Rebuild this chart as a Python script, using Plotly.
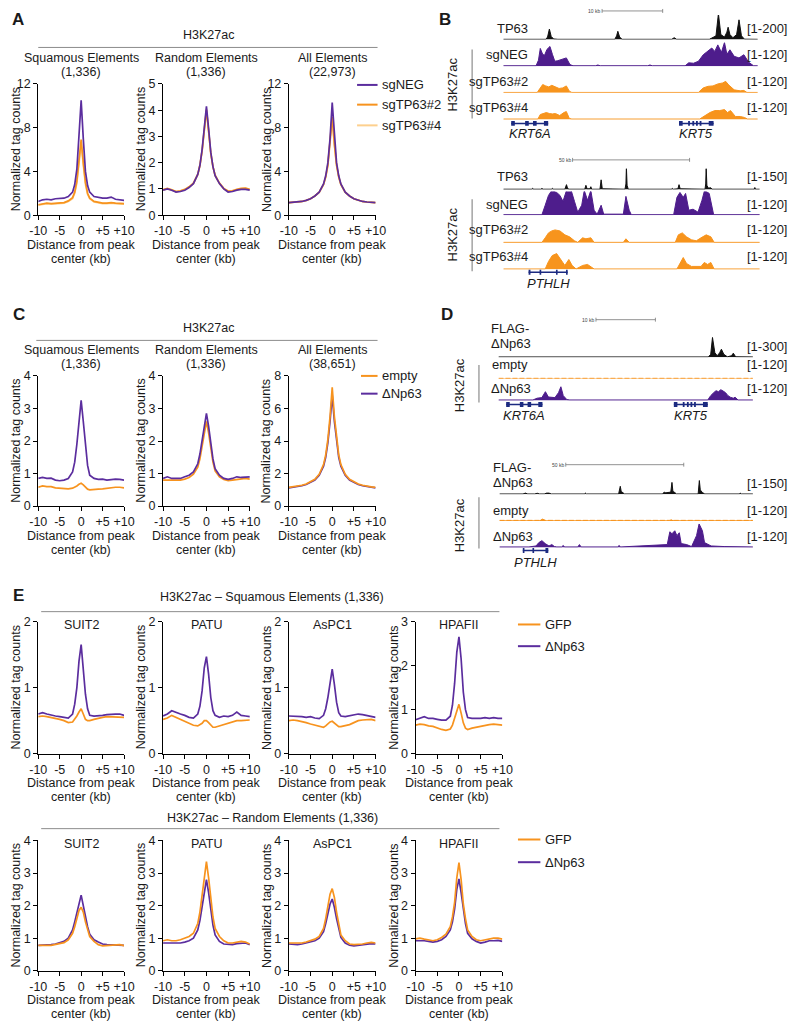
import plotly.graph_objects as go

W, H = 800, 1028
FONT = "Arial, 'Liberation Sans', Helvetica, sans-serif"
PURPLE = "#5B2D9E"
ORANGE = "#F7931E"
LIGHT_ORANGE = "#FDD08E"
TRACK_PURPLE = "#4E1D8C"
TRACK_ORANGE = "#F7941D"
GENE_BLUE = "#1B2A80"
TRACK_BLACK = "#111111"
GRAY = "#8C8C8C"
TXT = "#1a1a1a"

# ---------------- profile data (distance from peak center, kb) ----------------
DIST_KB = [-10, -9, -8, -7, -6, -5, -4, -3, -2, -1.5, -1, -0.5, 0, 0.5, 1, 1.5, 2, 3, 4, 5, 6, 7, 8, 9, 10]
DIST_TICKS = [-10, -5, 0, 5, 10]
DIST_TICKTEXT = ["-10", "-5", "0", "+5", "+10"]

# Panel A (sgNEG / sgTP63#2 / sgTP63#4)
A_SQ_SGNEG = [1.25, 1.4, 1.45, 1.4, 1.5, 1.5, 1.55, 1.7, 2.1, 2.8, 4.2, 7.3, 10.5, 7.0, 4.0, 2.7, 2.1, 1.7, 1.6, 1.55, 1.55, 1.65, 1.45, 1.4, 1.35]
A_SQ_SG2 = [0.95, 1.05, 1.1, 1.05, 1.1, 1.1, 1.15, 1.3, 1.6, 2.1, 3.1, 5.0, 6.9, 4.8, 3.0, 2.0, 1.55, 1.25, 1.15, 1.1, 1.1, 1.15, 1.1, 1.05, 1.05]
A_SQ_SG4 = [0.9, 1.0, 1.05, 1.0, 1.05, 1.05, 1.1, 1.25, 1.5, 2.0, 2.9, 4.7, 6.5, 4.6, 2.8, 1.9, 1.5, 1.2, 1.1, 1.05, 1.05, 1.1, 1.05, 1.0, 1.0]
A_RND_SGNEG = [0.95, 1.0, 0.95, 0.88, 0.9, 0.95, 1.05, 1.2, 1.55, 1.9, 2.5, 3.4, 4.15, 3.3, 2.4, 1.85, 1.5, 1.2, 1.0, 0.88, 0.9, 0.95, 0.98, 0.98, 0.95]
A_RND_SG2 = [0.97, 1.02, 0.97, 0.9, 0.93, 0.98, 1.08, 1.22, 1.55, 1.9, 2.45, 3.3, 4.0, 3.2, 2.35, 1.85, 1.52, 1.22, 1.02, 0.92, 0.93, 0.98, 1.02, 1.03, 0.98]
A_RND_SG4 = [0.96, 1.0, 0.96, 0.9, 0.92, 0.97, 1.07, 1.21, 1.55, 1.9, 2.45, 3.3, 4.05, 3.2, 2.35, 1.84, 1.5, 1.2, 1.0, 0.9, 0.92, 0.96, 1.0, 1.02, 0.97]
A_ALL_SGNEG = [1.15, 1.17, 1.2, 1.25, 1.35, 1.5, 1.75, 2.1, 2.85, 3.6, 4.8, 7.0, 10.3, 7.0, 4.8, 3.6, 2.85, 2.1, 1.75, 1.5, 1.35, 1.25, 1.2, 1.17, 1.15]
A_ALL_SG2 = [1.15, 1.17, 1.2, 1.25, 1.35, 1.5, 1.75, 2.1, 2.8, 3.5, 4.6, 6.5, 9.0, 6.5, 4.6, 3.5, 2.8, 2.1, 1.75, 1.5, 1.35, 1.25, 1.2, 1.17, 1.15]
A_ALL_SG4 = [1.14, 1.16, 1.19, 1.24, 1.34, 1.49, 1.74, 2.08, 2.78, 3.45, 4.5, 6.4, 8.7, 6.4, 4.5, 3.45, 2.78, 2.08, 1.74, 1.49, 1.34, 1.24, 1.19, 1.16, 1.14]

# Panel C (empty / ΔNp63)
C_SQ_EMPTY = [0.58, 0.62, 0.6, 0.6, 0.56, 0.55, 0.53, 0.53, 0.55, 0.58, 0.62, 0.67, 0.7, 0.65, 0.58, 0.52, 0.5, 0.5, 0.52, 0.53, 0.55, 0.56, 0.58, 0.58, 0.56]
C_SQ_DNP63 = [0.85, 0.88, 0.85, 0.86, 0.8, 0.78, 0.8, 0.85, 1.05, 1.35, 1.9, 2.7, 3.25, 2.6, 1.8, 1.25, 0.95, 0.85, 0.82, 0.83, 0.8, 0.82, 0.83, 0.82, 0.8]
C_RND_EMPTY = [0.8, 0.8, 0.78, 0.8, 0.8, 0.83, 0.88, 0.98, 1.2, 1.45, 1.85, 2.3, 2.6, 2.25, 1.75, 1.35, 1.08, 0.9, 0.82, 0.78, 0.8, 0.82, 0.82, 0.85, 0.83]
C_RND_DNP63 = [0.85, 0.9, 0.85, 0.85, 0.85, 0.9, 0.95, 1.05, 1.3, 1.6, 2.0, 2.5, 2.85, 2.45, 1.9, 1.45, 1.15, 0.95, 0.85, 0.82, 0.85, 0.9, 0.88, 0.9, 0.9]
C_ALL_EMPTY = [1.15, 1.18, 1.22, 1.28, 1.36, 1.48, 1.65, 1.95, 2.55, 3.15, 4.1, 5.5, 7.3, 5.5, 4.1, 3.15, 2.55, 1.95, 1.65, 1.48, 1.36, 1.28, 1.22, 1.18, 1.15]
C_ALL_DNP63 = [1.12, 1.15, 1.2, 1.25, 1.33, 1.45, 1.6, 1.9, 2.45, 3.0, 3.9, 5.2, 6.8, 5.2, 3.9, 3.0, 2.45, 1.9, 1.6, 1.45, 1.33, 1.25, 1.2, 1.15, 1.12]

# Panel E (GFP / ΔNp63), squamous elements
E_SQ_SUIT2_GFP = [0.56, 0.57, 0.56, 0.55, 0.53, 0.52, 0.5, 0.47, 0.48, 0.52, 0.57, 0.63, 0.68, 0.6, 0.52, 0.5, 0.5, 0.52, 0.54, 0.55, 0.56, 0.56, 0.56, 0.55, 0.55]
E_SQ_SUIT2_DNP63 = [0.6, 0.62, 0.6, 0.58, 0.57, 0.56, 0.55, 0.54, 0.6, 0.75, 1.0, 1.4, 1.65, 1.3, 0.9, 0.68, 0.58, 0.57, 0.57, 0.58, 0.59, 0.6, 0.6, 0.6, 0.58]
E_SQ_PATU_GFP = [0.52, 0.54, 0.58, 0.55, 0.52, 0.5, 0.47, 0.43, 0.42, 0.44, 0.46, 0.5, 0.5, 0.47, 0.43, 0.4, 0.4, 0.42, 0.45, 0.47, 0.48, 0.5, 0.5, 0.51, 0.51]
E_SQ_PATU_DNP63 = [0.57, 0.6, 0.65, 0.62, 0.6, 0.58, 0.55, 0.54, 0.6, 0.72, 0.95, 1.3, 1.47, 1.2, 0.85, 0.65, 0.58, 0.55, 0.57, 0.56, 0.58, 0.63, 0.58, 0.57, 0.56]
E_SQ_ASPC1_GFP = [0.5, 0.51, 0.5, 0.49, 0.47, 0.45, 0.43, 0.41, 0.4, 0.42, 0.45, 0.48, 0.49, 0.46, 0.43, 0.41, 0.41, 0.42, 0.44, 0.47, 0.5, 0.51, 0.52, 0.52, 0.5]
E_SQ_ASPC1_DNP63 = [0.57, 0.57, 0.57, 0.56, 0.55, 0.56, 0.54, 0.53, 0.58, 0.68, 0.85, 1.1, 1.28, 1.05, 0.78, 0.62, 0.57, 0.56, 0.57, 0.58, 0.6, 0.59, 0.58, 0.57, 0.55]
E_SQ_HPAFII_GFP = [0.65, 0.67, 0.66, 0.63, 0.62, 0.58, 0.55, 0.53, 0.56, 0.65, 0.8, 1.0, 1.12, 0.92, 0.7, 0.58, 0.55, 0.58, 0.6, 0.63, 0.65, 0.66, 0.67, 0.66, 0.65]
E_SQ_HPAFII_DNP63 = [0.77, 0.8, 0.84, 0.8, 0.8, 0.78, 0.76, 0.76, 0.85, 1.1, 1.6, 2.3, 2.65, 2.15, 1.4, 1.0, 0.82, 0.8, 0.8, 0.8, 0.82, 0.8, 0.82, 0.8, 0.8]

# Panel E, random elements
E_RND_SUIT2_GFP = [0.78, 0.77, 0.78, 0.78, 0.8, 0.82, 0.86, 0.95, 1.15, 1.35, 1.6, 1.85, 1.95, 1.8, 1.5, 1.25, 1.05, 0.9, 0.8, 0.76, 0.77, 0.78, 0.8, 0.8, 0.77]
E_RND_SUIT2_DNP63 = [0.78, 0.78, 0.8, 0.8, 0.82, 0.85, 0.9, 1.0, 1.25, 1.5, 1.8, 2.1, 2.32, 2.0, 1.65, 1.35, 1.12, 0.95, 0.88, 0.82, 0.8, 0.8, 0.8, 0.8, 0.78]
E_RND_PATU_GFP = [0.92, 0.95, 0.92, 0.92, 0.95, 1.0, 1.05, 1.15, 1.45, 1.8, 2.3, 2.95, 3.35, 2.85, 2.15, 1.65, 1.3, 1.05, 0.92, 0.85, 0.85, 0.88, 0.9, 0.88, 0.82]
E_RND_PATU_DNP63 = [0.85, 0.85, 0.85, 0.83, 0.85, 0.88, 0.92, 1.0, 1.25, 1.55, 2.0, 2.5, 2.8, 2.4, 1.85, 1.4, 1.1, 0.9, 0.82, 0.8, 0.8, 0.83, 0.85, 0.85, 0.8]
E_RND_ASPC1_GFP = [0.85, 0.85, 0.85, 0.85, 0.88, 0.92, 0.97, 1.05, 1.3, 1.6, 1.95, 2.35, 2.52, 2.25, 1.8, 1.4, 1.1, 0.92, 0.82, 0.8, 0.8, 0.82, 0.85, 0.87, 0.85]
E_RND_ASPC1_DNP63 = [0.82, 0.8, 0.8, 0.82, 0.85, 0.88, 0.92, 1.0, 1.2, 1.45, 1.75, 2.05, 2.2, 1.95, 1.6, 1.3, 1.02, 0.85, 0.78, 0.76, 0.78, 0.8, 0.82, 0.83, 0.82]
E_RND_HPAFII_GFP = [0.98, 1.0, 0.97, 0.95, 0.92, 0.95, 1.02, 1.12, 1.35, 1.65, 2.1, 2.85, 3.32, 2.8, 2.05, 1.6, 1.25, 1.05, 0.95, 0.92, 0.95, 0.98, 1.0, 1.0, 0.97]
E_RND_HPAFII_DNP63 = [0.92, 0.93, 0.92, 0.9, 0.88, 0.9, 0.95, 1.05, 1.25, 1.5, 1.9, 2.5, 2.82, 2.4, 1.85, 1.45, 1.15, 0.98, 0.9, 0.85, 0.88, 0.92, 0.92, 0.93, 0.9]

# ---------------- genome browser tracks (position kb, signal) ----------------
# B, KRT6A/KRT5 locus (42 kb)
B1_LEN = 42.0
B1_TP63_POS = [0, 7.0, 7.3, 7.6, 7.9, 8.3, 9.0, 18.4, 18.7, 18.9, 19.2, 19.6, 27.8, 28.2, 28.6, 34.0, 34.4, 35.1, 35.5, 35.9, 36.5, 36.9, 37.1, 37.4, 37.9, 38.5, 38.9, 39.3, 39.8, 42.0]
B1_TP63_VAL = [2, 2, 20, 85, 25, 5, 2, 2, 30, 67, 20, 2, 2, 15, 2, 2, 12, 30, 210, 40, 20, 60, 100, 40, 15, 40, 160, 30, 3, 2]
B1_SGNEG_POS = [0, 5.4, 5.8, 6.1, 6.5, 6.8, 7.2, 7.7, 8.1, 8.5, 9.0, 9.6, 10.4, 11.0, 11.5, 15.2, 15.6, 16.0, 23.8, 24.2, 24.6, 30.0, 30.6, 31.4, 32.2, 33.0, 33.8, 34.4, 34.9, 35.4, 36.0, 36.5, 36.9, 37.4, 38.1, 38.9, 39.7, 40.5, 41.3, 42.0]
B1_SGNEG_VAL = [2, 2, 30, 90, 60, 55, 85, 100, 60, 25, 28, 35, 42, 8, 2, 2, 6, 2, 2, 6, 2, 2, 17, 15, 25, 58, 75, 92, 75, 108, 70, 120, 60, 83, 50, 42, 58, 20, 2, 2]
B1_SG2_POS = [0, 5.6, 6.0, 6.5, 7.0, 7.5, 8.0, 8.5, 9.2, 9.8, 10.4, 10.9, 11.3, 32.2, 33.0, 33.8, 34.6, 35.4, 36.2, 36.7, 37.2, 38.1, 39.1, 39.7, 40.2, 42.0]
B1_SG2_VAL = [2, 2, 20, 42, 35, 30, 38, 30, 22, 25, 35, 8, 2, 2, 25, 33, 35, 45, 50, 58, 40, 15, 10, 12, 2, 2]
B1_SG4_POS = [0, 5.7, 6.1, 6.6, 7.1, 7.6, 8.1, 8.6, 9.3, 10.0, 10.4, 10.9, 11.3, 32.4, 33.3, 34.1, 34.9, 35.7, 36.5, 37.0, 37.5, 38.3, 39.1, 39.8, 40.3, 42.0]
B1_SG4_VAL = [2, 2, 25, 30, 35, 30, 28, 30, 20, 35, 40, 5, 2, 2, 20, 35, 45, 45, 50, 35, 45, 15, 15, 10, 2, 2]

# B, PTHLH locus (109.6 kb)
B2_LEN = 109.6
B2_TP63_POS = [0, 12, 12.5, 13, 16, 16.5, 17, 20.5, 21, 21.5, 26.3, 26.7, 27.0, 27.4, 28, 34.8, 35.3, 35.8, 37.0, 37.4, 37.8, 41.3, 41.8, 42.3, 52.0, 52.4, 52.6, 52.9, 53.4, 71.8, 72.2, 72.6, 74.6, 75.1, 75.6, 86.2, 86.5, 86.7, 87.0, 87.6, 88.7, 89.2, 107.2, 107.5, 107.8, 109.6]
B2_TP63_VAL = [2, 2, 8, 2, 2, 7, 2, 2, 8, 2, 2, 15, 35, 12, 2, 2, 30, 5, 5, 20, 2, 2, 70, 5, 2, 40, 160, 30, 2, 2, 8, 2, 5, 35, 5, 2, 40, 160, 30, 10, 12, 2, 2, 14, 2, 2]
B2_SGNEG_POS = [0, 16.5, 17.9, 19.3, 20.7, 22.8, 24.2, 25.5, 27.0, 29.0, 30.4, 31.8, 33.5, 34.6, 36.0, 37.4, 38.8, 40.1, 41.8, 42.9, 51.3, 52.4, 53.8, 54.7, 72.8, 74.2, 75.5, 76.9, 77.9, 79.3, 81.1, 83.2, 84.9, 86.0, 88.0, 89.0, 89.9, 109.6]
B2_SGNEG_VAL = [2, 2, 50, 100, 125, 115, 100, 70, 125, 125, 70, 15, 50, 125, 75, 125, 25, 5, 50, 5, 5, 95, 25, 2, 2, 90, 115, 90, 110, 25, 30, 15, 75, 125, 110, 60, 2, 2]
B2_SG2_POS = [0, 16.5, 17.9, 19.3, 20.7, 22.1, 24.2, 26.3, 28.3, 30.4, 31.8, 33.9, 35.3, 37.4, 38.8, 51.3, 52.4, 53.8, 73.5, 74.8, 76.5, 78.3, 80.4, 82.5, 84.5, 86.7, 88.7, 90.1, 109.6]
B2_SG2_VAL = [2, 2, 25, 50, 60, 65, 60, 40, 30, 10, 2, 25, 20, 25, 2, 2, 20, 2, 2, 40, 50, 30, 15, 10, 25, 40, 30, 2, 2]
B2_SG4_POS = [0, 17.9, 19.3, 20.9, 22.8, 24.6, 26.3, 28.0, 29.4, 31.1, 33.9, 36.0, 38.1, 38.8, 74.2, 75.5, 76.9, 78.3, 80.4, 84.5, 85.9, 87.3, 88.7, 90.1, 109.6]
B2_SG4_VAL = [2, 2, 40, 70, 80, 50, 20, 50, 20, 2, 20, 25, 10, 2, 2, 30, 60, 30, 15, 15, 35, 25, 35, 2, 2]

# D, KRT6A/KRT5 locus (42.8 kb)
D1_LEN = 42.8
D1_FLAG_POS = [0, 18.6, 19.0, 19.4, 35.3, 35.7, 36.0, 36.4, 36.8, 37.2, 37.5, 37.9, 38.5, 39.2, 39.5, 39.9, 40.5, 42.8]
D1_FLAG_VAL = [3, 3, 12, 3, 3, 40, 272, 60, 20, 60, 110, 40, 5, 20, 55, 5, 3, 3]
D1_EMPTY_POS = [0, 10, 10.5, 11, 20, 20.5, 21, 35, 35.5, 36, 42.8]
D1_EMPTY_VAL = [3, 3, 6, 3, 3, 5, 3, 3, 6, 3, 3]
D1_DNP63_POS = [0, 5.8, 6.5, 7.3, 7.9, 8.4, 9.5, 10.1, 10.5, 10.9, 11.5, 12.0, 35.2, 35.7, 36.2, 36.6, 37.0, 37.4, 37.8, 38.2, 38.6, 39.0, 39.5, 39.8, 40.3, 42.8]
D1_DNP63_VAL = [3, 3, 12, 15, 45, 18, 15, 40, 70, 25, 5, 3, 3, 25, 40, 50, 45, 55, 48, 40, 25, 17, 12, 17, 3, 3]

# D, PTHLH locus (107.4 kb)
D2_LEN = 107.4
D2_FLAG_POS = [0, 10, 11, 12, 15, 16, 17, 19, 20, 21, 22, 36, 36.4, 36.8, 50.5, 50.8, 51.2, 51.6, 52.4, 53, 69, 69.8, 70.5, 72.6, 73.1, 73.5, 74.3, 75, 84.2, 84.5, 84.7, 85.1, 86, 87, 101.6, 102, 102.4, 107.4]
D2_FLAG_VAL = [2, 2, 8, 2, 2, 7, 2, 2, 8, 8, 2, 2, 8, 2, 2, 30, 55, 20, 10, 2, 2, 14, 10, 15, 82, 20, 12, 2, 2, 50, 95, 30, 12, 2, 2, 8, 2, 2]
D2_EMPTY_POS = [0, 17, 18.2, 19.5, 72, 73, 74, 107.4]
D2_EMPTY_VAL = [3, 3, 10, 3, 3, 6, 3, 3]
D2_DNP63_POS = [0, 12.5, 15.5, 16.7, 18.0, 19.4, 21.0, 22.2, 23.3, 24.3, 26.3, 27.0, 27.7, 33.2, 33.9, 34.6, 50.0, 50.7, 51.4, 71.1, 72.2, 73.1, 74.3, 75.2, 76.2, 77.0, 79.3, 81.4, 83.5, 84.6, 86.0, 86.9, 89.7, 95.2, 107.4]
D2_DNP63_VAL = [3, 3, 8, 25, 35, 20, 8, 15, 5, 3, 3, 10, 3, 3, 15, 3, 3, 10, 3, 15, 80, 70, 85, 60, 75, 20, 15, 5, 60, 120, 85, 25, 8, 5, 3]

# Gene models (start, end, exons) in kb
KRT6A_B = (1.3, 7.4, [(1.3, 1.9), (3.6, 4.2), (4.9, 5.5), (6.7, 7.4)])
KRT5_B = (29.0, 34.7, [(29.0, 29.6), (30.5, 30.8), (31.2, 31.5), (31.8, 32.1), (32.4, 32.7), (33.9, 34.7)])
PTHLH_B = (10.8, 27.5, [(10.8, 11.6), (15.5, 16.2), (22.5, 23.2), (26.8, 27.5)])
KRT6A_D = (1.3, 7.4, [(1.3, 1.9), (3.6, 4.2), (4.9, 5.5), (6.7, 7.4)])
KRT5_D = (29.5, 35.2, [(29.5, 30.1), (31.0, 31.3), (31.7, 32.0), (32.3, 32.6), (32.9, 33.2), (34.4, 35.2)])
PTHLH_D = (9.9, 20.7, [(9.9, 10.6), (14.0, 14.7), (19.5, 20.7)])

# ---------------- figure construction ----------------
fig = go.Figure()
layout_axes = {}
shapes = []
annotations = []
counter = [0]

TICK_SIZE = 12.5
TITLE_SIZE = 12.5
LABEL_SIZE = 13


def PX(x):
    return x / W


def PY(y):
    return 1 - y / H


def txt(x, y, text, size=11, xanchor="center", yanchor="middle", angle=0, color=TXT, xref="paper"):
    annotations.append(dict(
        x=PX(x) if xref == "paper" else x, y=PY(y), xref=xref, yref="paper", text=text,
        showarrow=False, xanchor=xanchor, yanchor=yanchor, textangle=angle, borderpad=0,
        font=dict(family=FONT, size=size, color=color)))


def hline(x0, x1, y, color=GRAY, width=1):
    shapes.append(dict(type="line", xref="paper", yref="paper", x0=PX(x0), x1=PX(x1),
                       y0=PY(y), y1=PY(y), line=dict(color=color, width=width)))


def vline(x, y0, y1, color=GRAY, width=1.2):
    shapes.append(dict(type="line", xref="paper", yref="paper", x0=PX(x), x1=PX(x),
                       y0=PY(y0), y1=PY(y1), line=dict(color=color, width=width)))


def new_axes(x0, x1, ytop, ybot, xrange, yrange):
    counter[0] += 1
    n = counter[0]
    s = "" if n == 1 else str(n)
    layout_axes["xaxis" + s] = dict(domain=[PX(x0), PX(x1)], range=xrange, anchor="y" + s,
                                    showgrid=False, zeroline=False, fixedrange=True)
    layout_axes["yaxis" + s] = dict(domain=[PY(ybot), PY(ytop)], range=yrange, anchor="x" + s,
                                    showgrid=False, zeroline=False, fixedrange=True)
    return s


def profile(x0, x1, ytop, ybot, ymax, ydtick, series, title_lines=None, inner_title=None):
    s = new_axes(x0, x1, ytop, ybot, [-10, 10], [0, ymax])
    axstyle = dict(showline=True, linecolor="black", linewidth=1, ticks="outside", ticklen=4,
                   tickwidth=1, tickcolor="black", tickfont=dict(family=FONT, size=TICK_SIZE, color=TXT))
    layout_axes["xaxis" + s].update(axstyle, tickvals=DIST_TICKS, ticktext=DIST_TICKTEXT)
    layout_axes["yaxis" + s].update(axstyle, tickmode="linear", tick0=0, dtick=ydtick)
    for vals, color in series:
        fig.add_trace(go.Scatter(x=DIST_KB, y=vals, xaxis="x" + s, yaxis="y" + s, mode="lines",
                                 line=dict(color=color, width=1.7), showlegend=False, hoverinfo="skip"))
    cx = (x0 + x1) / 2
    txt(x0 - 23, (ytop + ybot) / 2, "Normalized tag counts", size=12.5, angle=-90)
    txt(cx, ybot + 30, "Distance from peak", size=12.5)
    txt(cx, ybot + 44, "center (kb)", size=12.5)
    if title_lines:
        txt(cx, ytop - 26, title_lines[0], size=TITLE_SIZE)
        txt(cx, ytop - 12, title_lines[1], size=TITLE_SIZE)
    if inner_title:
        txt(cx, ytop + 4, inner_title, size=TITLE_SIZE)


def track(x0, x1, baseline, height, length, vmax, pos, vals, color, dash=None):
    s = new_axes(x0, x1, baseline - height, baseline, [0, length], [0, vmax])
    layout_axes["xaxis" + s]["visible"] = False
    layout_axes["yaxis" + s]["visible"] = False
    line = dict(color=color, width=1)
    if dash:
        line["dash"] = dash
    fig.add_trace(go.Scatter(x=pos, y=vals, xaxis="x" + s, yaxis="y" + s, mode="lines",
                             fill="tozeroy", fillcolor=color, line=line,
                             showlegend=False, hoverinfo="skip"))
    return "x" + s


def gene(xref, model, name, y, label_y):
    start, end, exons = model
    shapes.append(dict(type="line", xref=xref, yref="paper", x0=start, x1=end, y0=PY(y), y1=PY(y),
                       line=dict(color=GENE_BLUE, width=1.5)))
    for a, b in exons:
        shapes.append(dict(type="rect", xref=xref, yref="paper", x0=a, x1=b, y0=PY(y + 2.5),
                           y1=PY(y - 2.5), fillcolor=GENE_BLUE, line=dict(width=0)))
    annotations.append(dict(x=(start + end) / 2, y=PY(label_y), xref=xref, yref="paper",
                            text="<i>%s</i>" % name, showarrow=False, xanchor="center",
                            yanchor="middle", font=dict(family=FONT, size=LABEL_SIZE, color=TXT)))


def scalebar(xref, start, length, y, label):
    shapes.append(dict(type="line", xref=xref, yref="paper", x0=start, x1=start + length,
                       y0=PY(y), y1=PY(y), line=dict(color="#777", width=0.8)))
    for xx in (start, start + length):
        shapes.append(dict(type="line", xref=xref, yref="paper", x0=xx, x1=xx,
                           y0=PY(y - 2), y1=PY(y + 2), line=dict(color="#777", width=0.8)))
    annotations.append(dict(x=start, y=PY(y), xref=xref, yref="paper", text=label,
                            showarrow=False, xanchor="right", yanchor="middle",
                            font=dict(family=FONT, size=5, color="#444")))


def legend_item(x0, x1, y, color, label):
    shapes.append(dict(type="line", xref="paper", yref="paper", x0=PX(x0), x1=PX(x1),
                       y0=PY(y), y1=PY(y), line=dict(color=color, width=2)))
    txt(x1 + 4, y, label, size=LABEL_SIZE, xanchor="left")


# ---- Panel A ----
txt(9, 13, "<b>A</b>", size=17)
txt(205, 28, "H3K27ac", size=TITLE_SIZE)
hline(30, 378, 41)
profile(30, 118, 78, 211, 12, 4, [(A_SQ_SG4, LIGHT_ORANGE), (A_SQ_SG2, ORANGE), (A_SQ_SGNEG, PURPLE)],
        title_lines=["Squamous Elements", "(1,336)"])
profile(158, 247, 78, 211, 5, 1, [(A_RND_SG4, LIGHT_ORANGE), (A_RND_SG2, ORANGE), (A_RND_SGNEG, PURPLE)],
        title_lines=["Random Elements", "(1,336)"])
profile(287, 376, 78, 211, 12, 4, [(A_ALL_SG4, LIGHT_ORANGE), (A_ALL_SG2, ORANGE), (A_ALL_SGNEG, PURPLE)],
        title_lines=["All Elements", "(22,973)"])
legend_item(357, 378, 79, PURPLE, "sgNEG")
legend_item(357, 378, 99, ORANGE, "sgTP63#2")
legend_item(357, 378, 120, LIGHT_ORANGE, "sgTP63#4")

# ---- Panel C ----
txt(10, 312, "<b>C</b>", size=17)
txt(205, 325, "H3K27ac", size=TITLE_SIZE)
hline(28, 378, 338)
profile(30, 118, 374, 506, 4, 1, [(C_SQ_EMPTY, ORANGE), (C_SQ_DNP63, PURPLE)],
        title_lines=["Squamous Elements", "(1,336)"])
profile(158, 247, 374, 506, 4, 1, [(C_RND_EMPTY, ORANGE), (C_RND_DNP63, PURPLE)],
        title_lines=["Random Elements", "(1,336)"])
profile(287, 376, 374, 506, 8, 2, [(C_ALL_DNP63, PURPLE), (C_ALL_EMPTY, ORANGE)],
        title_lines=["All Elements", "(38,651)"])
legend_item(361, 378, 374, ORANGE, "empty")
legend_item(361, 378, 392, PURPLE, "ΔNp63")

# ---- Panel E ----
txt(10, 597, "<b>E</b>", size=17)
txt(270, 598, "H3K27ac – Squamous Elements (1,336)", size=TITLE_SIZE)
hline(33, 503, 613)
E_X = [(30, 118), (158, 247), (287, 376), (417, 506)]
E_NAMES = ["SUIT2", "PATU", "AsPC1", "HPAFII"]
E_SQ = [(E_SQ_SUIT2_GFP, E_SQ_SUIT2_DNP63), (E_SQ_PATU_GFP, E_SQ_PATU_DNP63),
        (E_SQ_ASPC1_GFP, E_SQ_ASPC1_DNP63), (E_SQ_HPAFII_GFP, E_SQ_HPAFII_DNP63)]
E_SQ_MAX = [2, 2, 2, 3]
for (x0, x1), name, (gfp, dn), ym in zip(E_X, E_NAMES, E_SQ, E_SQ_MAX):
    profile(x0, x1, 623, 757, ym, 1, [(gfp, ORANGE), (dn, PURPLE)], inner_title=name)
legend_item(522, 545, 626, ORANGE, "GFP")
legend_item(522, 545, 648, PURPLE, "ΔNp63")

txt(270, 822, "H3K27ac – Random Elements (1,336)", size=TITLE_SIZE)
hline(33, 503, 833)
E_RND = [(E_RND_SUIT2_GFP, E_RND_SUIT2_DNP63), (E_RND_PATU_GFP, E_RND_PATU_DNP63),
         (E_RND_ASPC1_GFP, E_RND_ASPC1_DNP63), (E_RND_HPAFII_GFP, E_RND_HPAFII_DNP63)]
for (x0, x1), name, (gfp, dn) in zip(E_X, E_NAMES, E_RND):
    profile(x0, x1, 845, 977, 4, 1, [(dn, PURPLE), (gfp, ORANGE)], inner_title=name)
legend_item(522, 545, 844, ORANGE, "GFP")
legend_item(522, 545, 867, PURPLE, "ΔNp63")

# ---- Panel B ----
txt(447, 13, "<b>B</b>", size=17)
bx0, bx1 = 507, 768
track(bx0, bx1, 33, 25, B1_LEN, 200, B1_TP63_POS, B1_TP63_VAL, TRACK_BLACK)
track(bx0, bx1, 60, 24, B1_LEN, 120, B1_SGNEG_POS, B1_SGNEG_VAL, TRACK_PURPLE)
track(bx0, bx1, 87, 24, B1_LEN, 120, B1_SG2_POS, B1_SG2_VAL, TRACK_ORANGE)
xb1 = track(bx0, bx1, 114, 24, B1_LEN, 120, B1_SG4_POS, B1_SG4_VAL, TRACK_ORANGE)
scalebar(xb1, 16.3, 10, 4, "10 kb")
gene(xb1, KRT6A_B, "KRT6A", 118, 128)
gene(xb1, KRT5_B, "KRT5", 118, 128)
for lab, yy, rng in [("TP63", 22, "[1-200]"), ("sgNEG", 48, "[1-120]"),
                     ("sgTP63#2", 76, "[1-120]"), ("sgTP63#4", 102, "[1-120]")]:
    txt(533, yy, lab, size=LABEL_SIZE, xanchor="right")
    txt(799, yy, rng, size=LABEL_SIZE, xanchor="right")
txt(455, 79, "H3K27ac", size=LABEL_SIZE, angle=-90)
vline(475, 43, 113)

track(bx0, 770, 185, 21, B2_LEN, 150, B2_TP63_POS, B2_TP63_VAL, TRACK_BLACK)
track(bx0, 770, 211, 24, B2_LEN, 120, B2_SGNEG_POS, B2_SGNEG_VAL, TRACK_PURPLE)
track(bx0, 770, 239, 24, B2_LEN, 120, B2_SG2_POS, B2_SG2_VAL, TRACK_ORANGE)
xb2 = track(bx0, 770, 266, 24, B2_LEN, 120, B2_SG4_POS, B2_SG4_VAL, TRACK_ORANGE)
scalebar(xb2, 29.6, 50, 155, "50 kb")
gene(xb2, PTHLH_B, "PTHLH", 269, 280)
for lab, yy, rng in [("TP63", 172, "[1-150]"), ("sgNEG", 200, "[1-120]"),
                     ("sgTP63#2", 226, "[1-120]"), ("sgTP63#4", 253, "[1-120]")]:
    txt(533, yy, lab, size=LABEL_SIZE, xanchor="right")
    txt(799, yy, rng, size=LABEL_SIZE, xanchor="right")
txt(455, 231, "H3K27ac", size=LABEL_SIZE, angle=-90)
vline(475, 195, 268)

# ---- Panel D ----
txt(449, 312, "<b>D</b>", size=17)
dx0, dx1 = 502, 763
track(dx0, dx1, 355, 22, D1_LEN, 300, D1_FLAG_POS, D1_FLAG_VAL, TRACK_BLACK)
track(dx0, dx1, 377, 22, D1_LEN, 120, D1_EMPTY_POS, D1_EMPTY_VAL, TRACK_ORANGE, dash="5px,2px")
xd1 = track(dx0, dx1, 399, 24, D1_LEN, 120, D1_DNP63_POS, D1_DNP63_VAL, TRACK_PURPLE)
scalebar(xd1, 16.4, 10, 317, "10 kb")
gene(xd1, KRT6A_D, "KRT6A", 403, 414)
gene(xd1, KRT5_D, "KRT5", 403, 414)
txt(493, 326, "FLAG-", size=LABEL_SIZE, xanchor="left")
txt(493, 341, "ΔNp63", size=LABEL_SIZE, xanchor="left")
txt(799, 344, "[1-300]", size=LABEL_SIZE, xanchor="right")
txt(494, 362, "empty", size=LABEL_SIZE, xanchor="left")
txt(799, 362, "[1-120]", size=LABEL_SIZE, xanchor="right")
txt(493, 387, "ΔNp63", size=LABEL_SIZE, xanchor="left")
txt(799, 387, "[1-120]", size=LABEL_SIZE, xanchor="right")
txt(462, 383, "H3K27ac", size=LABEL_SIZE, angle=-90)
vline(482, 363, 401)

dx0b, dx1b = 503, 763
track(dx0b, dx1b, 494, 22, D2_LEN, 150, D2_FLAG_POS, D2_FLAG_VAL, TRACK_BLACK)
track(dx0b, dx1b, 521, 22, D2_LEN, 120, D2_EMPTY_POS, D2_EMPTY_VAL, TRACK_ORANGE, dash="5px,2px")
xd2 = track(dx0b, dx1b, 548, 24, D2_LEN, 120, D2_DNP63_POS, D2_DNP63_VAL, TRACK_PURPLE)
scalebar(xd2, 28.1, 50, 464, "50 kb")
gene(xd2, PTHLH_D, "PTHLH", 551, 563)
txt(495, 467, "FLAG-", size=LABEL_SIZE, xanchor="left")
txt(495, 482, "ΔNp63", size=LABEL_SIZE, xanchor="left")
txt(799, 483, "[1-150]", size=LABEL_SIZE, xanchor="right")
txt(495, 510, "empty", size=LABEL_SIZE, xanchor="left")
txt(799, 510, "[1-120]", size=LABEL_SIZE, xanchor="right")
txt(495, 537, "ΔNp63", size=LABEL_SIZE, xanchor="left")
txt(799, 537, "[1-120]", size=LABEL_SIZE, xanchor="right")
txt(462, 525, "H3K27ac", size=LABEL_SIZE, angle=-90)
vline(482, 497, 549)

fig.update_layout(
    width=W, height=H, margin=dict(l=0, r=0, t=0, b=0),
    paper_bgcolor="white", plot_bgcolor="rgba(0,0,0,0)",
    showlegend=False, shapes=shapes, annotations=annotations,
    font=dict(family=FONT, color=TXT), **layout_axes)

fig.write_html("out.html", config={"displayModeBar": False},
               post_script="document.body.style.margin='0px';document.body.style.overflow='hidden';")
